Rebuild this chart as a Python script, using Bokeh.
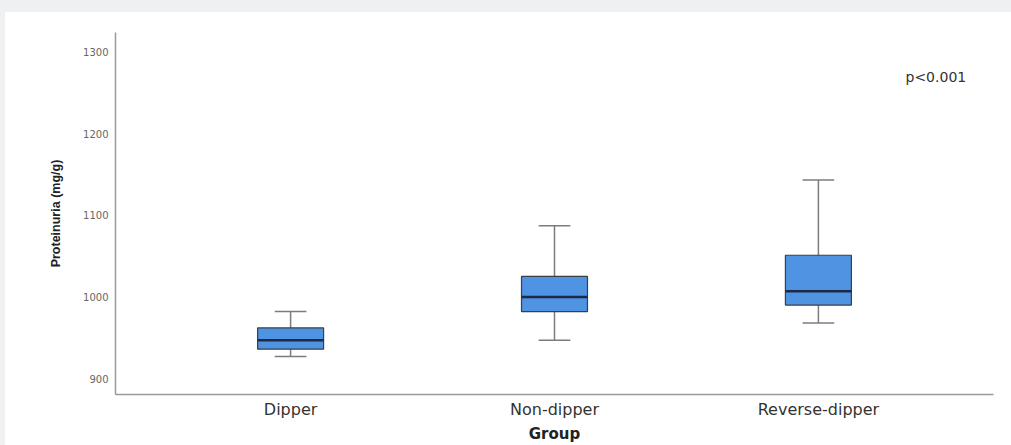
from bokeh.plotting import figure
from bokeh.models import ColumnDataSource, FactorRange, FixedTicker, Label
from bokeh.transform import dodge
from bokeh.embed import file_html
from bokeh.resources import INLINE

# Data
groups = ["Dipper", "Non-dipper", "Reverse-dipper"]
lower = [927, 947, 968]
q1 = [936, 982, 990]
median = [947, 1000, 1007]
q3 = [962, 1025, 1051]
upper = [982, 1087, 1143]
y_ticks = [900, 1000, 1100, 1200, 1300]
p_text = "p<0.001"
x_title = "Group"
y_title = "Proteinuria (mg/g)"

src = ColumnDataSource(dict(group=groups, lower=lower, q1=q1, median=median, q3=q3, upper=upper))

SANS = "Liberation Sans"
WIDE = "DejaVu Sans"

p = figure(
    x_range=FactorRange(*groups, range_padding=0.109),
    y_range=(880.5, 1323.7),
    width=1006, height=433,
    min_border_left=110, min_border_right=18, min_border_top=20, min_border_bottom=49,
    output_backend="svg", toolbar_location=None,
)
p.styles = {"background-color": "white"}
p.outline_line_color = None
p.xgrid.grid_line_color = None
p.ygrid.grid_line_color = None
p.background_fill_color = "white"
p.border_fill_color = "white"

WHISK = "#7c7c7c"
# whisker stems
p.segment(x0="group", y0="lower", x1="group", y1="q1", source=src, line_color=WHISK, line_width=1.5)
p.segment(x0="group", y0="q3", x1="group", y1="upper", source=src, line_color=WHISK, line_width=1.5)
# caps
for col in ["lower", "upper"]:
    p.segment(x0=dodge("group", -0.06, range=p.x_range), y0=col,
              x1=dodge("group", 0.06, range=p.x_range), y1=col,
              source=src, line_color=WHISK, line_width=1.5)
# boxes
p.vbar(x="group", bottom="q1", top="q3", width=0.25, source=src,
       fill_color="#4f93e3", line_color="#3a3f47", line_width=1.2)
# medians
p.segment(x0=dodge("group", -0.125, range=p.x_range), y0="median",
          x1=dodge("group", 0.125, range=p.x_range), y1="median",
          source=src, line_color="#1c2a45", line_width=2.5)

# axes styling
p.yaxis.ticker = FixedTicker(ticks=y_ticks)
p.yaxis.axis_label = y_title
p.xaxis.axis_label = x_title
for ax in (p.xaxis, p.yaxis):
    ax.axis_line_color = "#9a9a9a"
    ax.axis_line_width = 1.5
    ax.major_tick_line_color = None
    ax.minor_tick_line_color = None
    ax.major_tick_out = 0
    ax.major_tick_in = 0
    ax.minor_tick_out = 0
    ax.minor_tick_in = 0
    ax.axis_label_text_font_style = "bold"
    ax.axis_label_text_color = "#222222"
p.yaxis.axis_label_text_font = SANS
p.yaxis.axis_label_text_font_size = "12.5px"
p.yaxis.major_label_text_font = WIDE
p.yaxis.major_label_text_font_size = "10px"
p.yaxis.major_label_text_color = "#666666"
p.yaxis.major_label_standoff = 7
p.yaxis.axis_label_standoff = 17

p.xaxis.axis_label_text_font = WIDE
p.xaxis.axis_label_text_font_size = "15px"
p.xaxis.major_label_text_font = WIDE
p.xaxis.major_label_text_font_size = "16px"
p.xaxis.major_label_text_color = "#333333"
p.xaxis.major_label_standoff = 5
p.xaxis.axis_label_standoff = 3

p.add_layout(Label(x=790, y=318, x_units="screen", y_units="screen", text=p_text,
                   text_font=WIDE, text_font_size="14px", text_color="#333333",
                   text_baseline="middle"))

html = file_html(p, INLINE)
style = ("<style>html, body { background: #eef0f2 !important; } "
         "body { padding: 12px 0 0 5px !important; overflow: hidden; }</style>")
html = html.replace("</head>", style + "</head>", 1)
open("out.html", "w").write(html)
